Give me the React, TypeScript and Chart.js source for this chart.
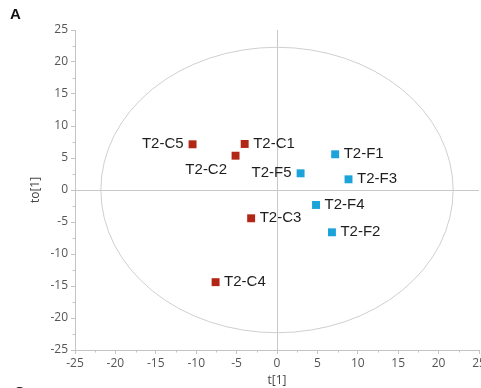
import React, { useEffect, useRef } from "react";
import { Chart, registerables } from "chart.js";

Chart.register(...registerables);

// ---- data ----
const controlNames = ["T2-C5", "T2-C1", "T2-C2", "T2-C3", "T2-C4"];
const controlT = [-10.45, -4.0, -5.13, -3.2, -7.6];
const controlTo = [7.14, 7.19, 5.36, -4.42, -14.4];

const fermentNames = ["T2-F1", "T2-F5", "T2-F3", "T2-F4", "T2-F2"];
const fermentT = [7.2, 2.92, 8.85, 4.83, 6.8];
const fermentTo = [5.58, 2.61, 1.67, -2.34, -6.61];

const axisMin = -25;
const axisMax = 25;
const axisStep = 5;
const ellipseRadiusT = 21.8;
const ellipseRadiusTo = 22.3;

const labelSide: Record<string, string> = {
  "T2-C5": "left",
  "T2-C2": "belowLeft",
  "T2-F5": "left",
};

const RED = "rgb(178,38,22)";
const BLUE = "rgb(28,163,218)";
const AXIS_GRAY = "#c4c4c4";
const TICK_FONT = "'Open Sans', 'DejaVu Sans', sans-serif";

const overlayPlugin = {
  id: "overlay",
  beforeDatasetsDraw(chart: any) {
    const { ctx, scales } = chart;
    const xs = scales.x;
    const ys = scales.y;
    const cx = xs.getPixelForValue(0);
    const cy = ys.getPixelForValue(0);
    const rx = Math.abs(xs.getPixelForValue(ellipseRadiusT) - cx);
    const ry = Math.abs(ys.getPixelForValue(ellipseRadiusTo) - cy);
    ctx.save();
    ctx.strokeStyle = "#cfcfcf";
    ctx.lineWidth = 1;
    ctx.beginPath();
    ctx.ellipse(cx, cy, rx, ry, 0, 0, Math.PI * 2);
    ctx.stroke();
    // minor ticks
    ctx.strokeStyle = AXIS_GRAY;
    ctx.beginPath();
    for (let v = axisMin + axisStep / 2; v < axisMax; v += axisStep) {
      const px = Math.round(xs.getPixelForValue(v)) + 0.5;
      ctx.moveTo(px, xs.top);
      ctx.lineTo(px, xs.top + 2.5);
      const py = Math.round(ys.getPixelForValue(v)) + 0.5;
      ctx.moveTo(ys.right, py);
      ctx.lineTo(ys.right - 2.5, py);
    }
    ctx.stroke();
    ctx.restore();
  },
  afterDatasetsDraw(chart: any) {
    const { ctx, scales } = chart;
    const xs = scales.x;
    const ys = scales.y;
    ctx.save();
    ctx.font = "15px 'Liberation Sans', Arial, sans-serif";
    ctx.fillStyle = "#1e1e1e";
    ctx.textBaseline = "middle";
    const groups = [
      [controlNames, controlT, controlTo],
      [fermentNames, fermentT, fermentTo],
    ] as any[];
    groups.forEach(([names, tx, ty]) => {
      names.forEach((n: string, i: number) => {
        const px = xs.getPixelForValue(tx[i]);
        const py = ys.getPixelForValue(ty[i]);
        const side = labelSide[n] || "right";
        if (side === "left") {
          ctx.textAlign = "right";
          ctx.fillText(n, px - 9, py);
        } else if (side === "belowLeft") {
          ctx.textAlign = "right";
          ctx.fillText(n, px - 8.5, py + 14);
        } else {
          ctx.textAlign = "left";
          ctx.fillText(n, px + 8.5, py);
        }
      });
    });
    // axis titles
    ctx.font = `12px ${TICK_FONT}`;
    ctx.fillStyle = "#444";
    ctx.textAlign = "center";
    ctx.fillText("t[1]", xs.getPixelForValue(0), 381);
    ctx.save();
    ctx.translate(36, ys.getPixelForValue(0));
    ctx.rotate(-Math.PI / 2);
    ctx.fillText("to[1]", 0, 0);
    ctx.restore();
    // panel letters
    ctx.font = "bold 15px 'Liberation Sans', Arial, sans-serif";
    ctx.fillStyle = "#111";
    ctx.textAlign = "left";
    ctx.textBaseline = "alphabetic";
    ctx.fillText("A", 10, 19);
    ctx.fillText("C", 14, 397);
    ctx.restore();
  },
};

export default function App() {
  const ref = useRef<HTMLCanvasElement>(null);
  useEffect(() => {
    if (!ref.current) return;
    const tickFont = { family: TICK_FONT, size: 12 };
    const gridOpts = {
      color: (c: any) => (c.tick && c.tick.value === 0 ? "#c8c8c8" : "rgba(0,0,0,0)"),
      tickColor: AXIS_GRAY,
      tickLength: 4,
      lineWidth: 1,
    };
    const chart = new Chart(ref.current, {
      type: "scatter",
      data: {
        datasets: [
          {
            label: "C",
            data: controlT.map((t, i) => ({ x: t, y: controlTo[i] })),
            backgroundColor: RED,
            borderWidth: 0,
            pointStyle: "rect",
            pointRadius: 5.6,
          },
          {
            label: "F",
            data: fermentT.map((t, i) => ({ x: t, y: fermentTo[i] })),
            backgroundColor: BLUE,
            borderWidth: 0,
            pointStyle: "rect",
            pointRadius: 5.6,
          },
        ],
      },
      options: {
        responsive: false,
        animation: false,
        events: [],
        layout: { autoPadding: false, padding: { top: 30, right: 2, left: 0, bottom: 0 } },
        plugins: { legend: { display: false }, tooltip: { enabled: false } },
        scales: {
          x: {
            type: "linear",
            min: axisMin,
            max: axisMax,
            ticks: { stepSize: axisStep, font: tickFont, color: "#555", padding: 2, maxRotation: 0 },
            grid: gridOpts as any,
            border: { display: true, color: AXIS_GRAY },
            afterFit: (s: any) => {
              s.height = 38;
              s.paddingLeft = 0;
              s.paddingRight = 0;
            },
          },
          y: {
            type: "linear",
            min: axisMin,
            max: axisMax,
            ticks: { stepSize: axisStep, font: tickFont, color: "#555", padding: 3 },
            grid: gridOpts as any,
            border: { display: true, color: AXIS_GRAY },
            afterFit: (s: any) => {
              s.width = 75;
              s.paddingTop = 0;
              s.paddingBottom = 0;
            },
          },
        },
      },
      plugins: [overlayPlugin],
    });
    return () => chart.destroy();
  }, []);
  return (
    <div style={{ position: "absolute", left: 0, top: 0, width: 481, height: 388, background: "#fff" }}>
      <canvas ref={ref} width={481} height={388} style={{ display: "block" }} />
    </div>
  );
}
